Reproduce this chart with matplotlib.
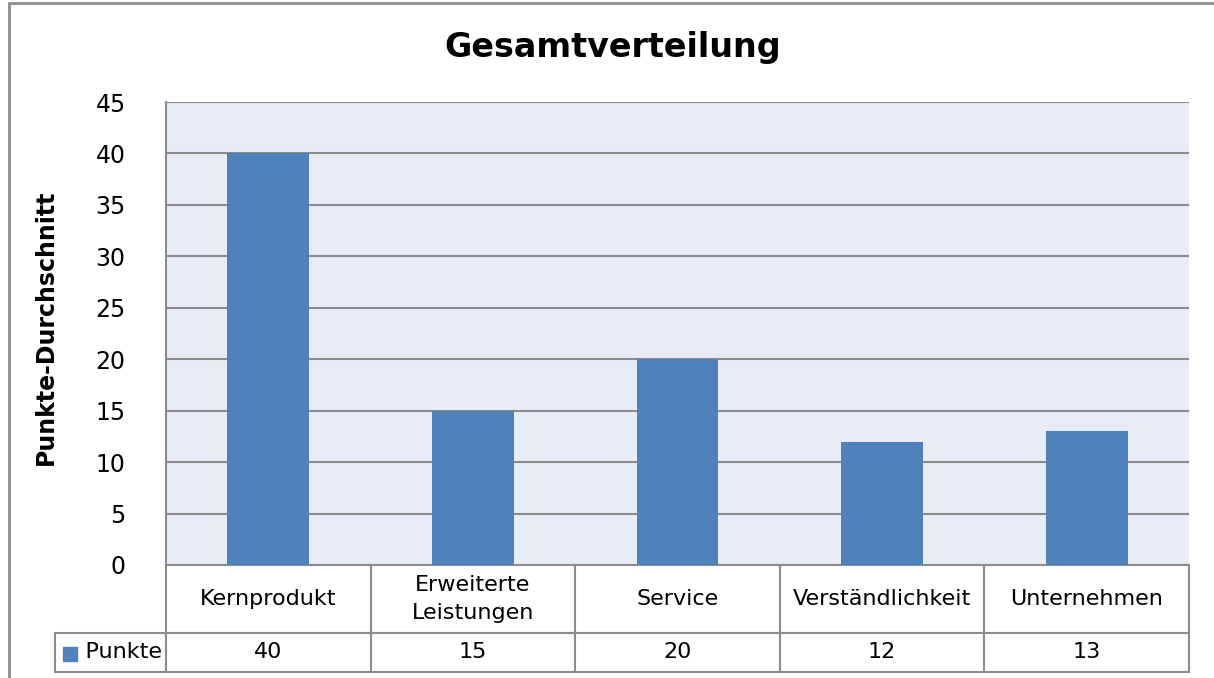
import matplotlib.pyplot as plt
from matplotlib.patches import Rectangle

# data
categories = ['Kernprodukt', 'Erweiterte\nLeistungen', 'Service', 'Verständlichkeit', 'Unternehmen']
punkte = [40, 15, 20, 12, 13]
series_name = 'Punkte'
yticks = [0, 5, 10, 15, 20, 25, 30, 35, 40, 45]

W, H = 1214, 678
bar_color = '#4F81BD'
grid_color = '#8C8C8C'
edge_color = '#8C8C8C'

fig = plt.figure(figsize=(W / 100, H / 100), dpi=100)
ax = fig.add_axes([166 / W, 1 - 565 / H, (1189 - 166) / W, (565 - 102) / H])
ax.set_facecolor('#E8ECF6')

# outer chart frame
fig.patches.append(Rectangle((9 / W, -0.1), 1.2, 1.1 - 3 / H, transform=fig.transFigure,
                             fill=False, edgecolor=edge_color, linewidth=2))

x = list(range(len(categories)))
ax.bar(x, punkte, width=0.4, color=bar_color, zorder=3)
ax.set_xlim(-0.5, len(categories) - 0.5)
ax.set_ylim(0, 45)
ax.set_yticks(yticks)
ax.tick_params(axis='y', length=0, labelsize=17, pad=29)
ax.tick_params(axis='x', length=0, labelbottom=False)
ax.yaxis.grid(True, color=grid_color, linewidth=1.5, zorder=1)
for s in ['top', 'right', 'bottom']:
    ax.spines[s].set_visible(False)
ax.spines['left'].set_color(grid_color)
ax.spines['left'].set_linewidth(1.5)

fig.suptitle('Gesamtverteilung', x=613 / W, y=1 - 47 / H, va='center',
             fontsize=24, fontweight='bold')
ax.set_ylabel('Punkte-Durchschnitt', fontsize=17, fontweight='bold')
ax.yaxis.set_label_coords(-0.106, 0.514)

# data table below the plot (first column holds the series label)
tbl_h = (672 - 565) / 463
lab_w = 111 / 1023
cell_text = [[''] + categories, ['    ' + series_name] + [str(v) for v in punkte]]
tbl = ax.table(cellText=cell_text, cellLoc='center',
               bbox=[-lab_w, -tbl_h, 1 + lab_w, tbl_h])
tbl.auto_set_font_size(False)
tbl.set_fontsize(16)
for (r, c), cell in tbl.get_celld().items():
    cell.set_edgecolor(edge_color)
    cell.set_linewidth(1.5)
    cell.set_height(68 if r == 0 else 39)
    cell.set_width(111 if c == 0 else 204.6)
    cell.PAD = 0.02
    cell.get_text().set_linespacing(1.45)
    if c == 0:
        cell.get_text().set_horizontalalignment('left')
        if r == 0:
            cell.visible_edges = ''

# legend key in the label cell
ax.add_patch(Rectangle((-103 / 1023, -(661 - 565) / 463), 14 / 1023, 14 / 463,
                       transform=ax.transAxes, color=bar_color, clip_on=False))

fig.savefig('out.png', dpi=100)
